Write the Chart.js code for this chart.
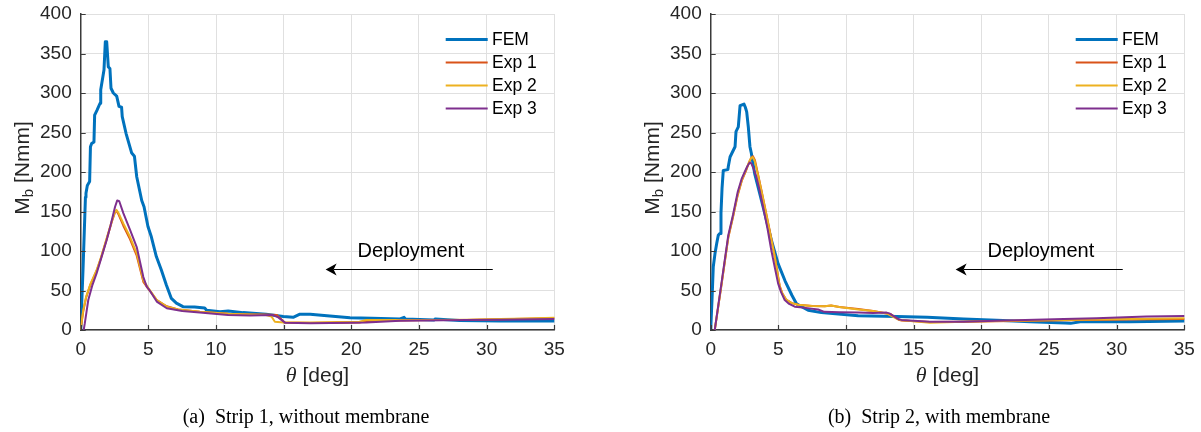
<!DOCTYPE html>
<html>
<head>
<meta charset="utf-8">
<script src="https://cdn.jsdelivr.net/npm/chart.js@4.4.1/dist/chart.umd.min.js"></script>
<style>
  html, body { margin: 0; padding: 0; background: #fff; }
  #wrap { position: relative; width: 1201px; height: 432px; overflow: hidden; background: #fff; }
  .panel { position: absolute; top: 0; width: 571px; height: 432px; }
  .caption {
    position: absolute; top: 405px; line-height: 22px;
    font: 20px "Liberation Serif", "Times New Roman", serif; color: #000;
    white-space: pre; transform: translateX(-50%);
  }
</style>
</head>
<body>
<div id="wrap">
  <div class="panel" style="left:0px"><canvas id="strip1" width="571" height="432"></canvas></div>
  <div class="panel" style="left:630px"><canvas id="strip2" width="571" height="432"></canvas></div>
  <div class="caption" style="left:306px">(a)  Strip 1, without membrane</div>
  <div class="caption" style="left:939px">(b)  Strip 2, with membrane</div>
</div>
<script>
// Series shared by both panels
const seriesNames = ['FEM', 'Exp 1', 'Exp 2', 'Exp 3'];
const xTicks = [0, 5, 10, 15, 20, 25, 30, 35];
const yTicks = [0, 50, 100, 150, 200, 250, 300, 350, 400];

// Strip 1 (without membrane): rotation θ [deg] and bending moment M_b [Nmm]
const s1FemTheta = [0, 0.17, 0.35, 0.39, 0.49, 0.66, 0.72, 0.81, 0.98, 1.03, 1.2, 1.43, 1.48, 1.72, 1.82, 1.92, 2.04, 2.16, 2.24, 2.41, 2.66, 2.83, 3.02, 3.07, 3.35, 3.77, 3.97, 4.14, 4.51, 4.68, 4.97, 5.22, 5.59, 5.96, 6.33, 6.70, 7.07, 7.56, 8.42, 9.16, 9.3, 10.3, 10.9, 12.0, 13.7, 14.97, 15.7, 16.2, 16.96, 18.2, 19.9, 21.5, 23.6, 23.9, 24.0, 26.1, 26.2, 28.0, 31.0, 35.0];
const s1FemMb    = [0, 76, 168, 173, 183, 188, 232, 236, 238, 272, 278, 287, 304, 329, 365, 365, 333, 331, 306, 300, 296, 283, 282, 270, 249, 224, 220, 194, 164, 156, 131, 118, 93, 76, 57, 40, 34, 29.5, 29, 28, 25, 23, 24, 22, 20, 17, 16, 20, 20, 18, 15.6, 15, 14, 16, 14, 12.6, 14, 12, 11.4, 11.4];

const s1Exp1Theta = [0, 0.05, 0.19, 0.4, 0.69, 1.18, 1.5, 1.92, 2.3, 2.54, 2.65, 2.8, 3.15, 3.64, 4.14, 4.63, 5.0, 5.62, 6.36, 7.2, 8.8, 10.9, 12.5, 13.7, 14.5, 14.75, 15.05, 17, 19, 20.6, 21.1, 23.6, 26.1, 28.5, 31, 33, 35];
const s1Exp1Mb    = [0, 7, 24, 41, 56, 75, 91, 115, 137, 149, 151, 146, 132, 115, 94, 61, 52, 38, 30, 26, 23, 20.5, 19.5, 19.5, 19, 15, 9.5, 9, 9.2, 9.5, 11.5, 12, 12.5, 12.8, 13.5, 14.3, 15];

const s1Exp2Theta = [0, 0.05, 0.19, 0.4, 0.69, 1.18, 1.5, 1.92, 2.3, 2.54, 2.65, 2.8, 3.15, 3.64, 4.14, 4.63, 5.0, 5.62, 6.36, 7.2, 8.8, 10.9, 12.5, 13.7, 14.1, 14.35, 15.0, 17.0, 19.0, 20.6, 21.1, 23.6, 26.1, 28.5, 31, 33, 35];
const s1Exp2Mb    = [0, 8, 25, 42, 57, 76, 92, 116, 138, 150, 152, 148, 135, 118, 97, 63, 53, 38, 29.5, 26, 23, 20.5, 19.5, 19, 17, 10.5, 9.6, 9.6, 10, 10.5, 12.6, 12.6, 12.6, 13, 13.9, 14.5, 15.6];

const s1Exp3Theta = [0.22, 0.3, 0.56, 0.85, 1.18, 1.5, 1.92, 2.2, 2.54, 2.7, 2.85, 3.15, 3.64, 4.14, 4.63, 4.88, 5.1, 5.62, 6.36, 7.5, 8.8, 10.9, 12.5, 14.2, 14.6, 15.1, 17.0, 19.9, 21.1, 23.6, 28.5, 31, 35];
const s1Exp3Mb    = [0, 8, 38, 56, 72, 90, 114, 132, 156, 164, 163, 148, 127, 105, 67, 55, 50, 36, 27.5, 24, 22, 19, 18.5, 19, 16, 9.3, 8.4, 9.3, 9.5, 11.8, 12.6, 13, 14];

// Strip 2 (with membrane)
const s2FemTheta = [0, 0.1, 0.19, 0.32, 0.45, 0.56, 0.66, 0.72, 0.76, 0.84, 0.93, 1.27, 1.3, 1.43, 1.6, 1.8, 1.87, 2.04, 2.17, 2.46, 2.56, 2.66, 2.78, 2.9, 3.0, 3.25, 3.62, 3.99, 4.48, 4.98, 5.5, 6.0, 6.35, 7.2, 8.18, 10.9, 13.76, 16, 18.7, 21.6, 23.6, 26.2, 26.6, 27.3, 31, 35];
const s2FemMb    = [0, 40, 80, 97, 110, 120, 122, 122, 148, 180, 202, 203, 207, 219, 225, 232, 251, 257, 284, 286, 282, 276, 257, 232, 224, 198, 173, 148, 114, 84, 62, 44, 33, 25, 22, 18, 17, 16, 14, 12, 10.5, 9, 8.4, 10.5, 10.5, 11.4];

const s2Exp1Theta = [0.3, 0.8, 1.3, 1.65, 2.0, 2.3, 2.6, 2.85, 3.0, 3.12, 3.27, 3.5, 3.75, 3.99, 4.3, 4.73, 4.9, 5.1, 5.3, 5.6, 6.0, 6.46, 7.5, 8.43, 8.9, 9.5, 10.9, 12.0, 13.3, 13.9, 14.1, 16.2, 18.7, 21.1, 26.1, 31, 35];
const s2Exp1Mb    = [0, 57, 117, 143, 171, 189, 201, 213, 218, 220, 215, 197, 177, 157, 131, 94, 76, 56, 46, 38, 34, 32, 30.5, 30, 31, 29, 26.5, 24, 20, 13, 12, 10, 10.5, 11, 12.3, 13.3, 14];

const s2Exp2Theta = [0.3, 0.8, 1.3, 1.65, 2.0, 2.3, 2.6, 2.85, 3.0, 3.1, 3.25, 3.5, 3.75, 3.99, 4.3, 4.73, 4.9, 5.1, 5.3, 5.6, 6.0, 6.46, 7.5, 8.43, 8.9, 9.5, 10.9, 12.0, 13.0, 13.76, 14.0, 16.2, 18.7, 21.1, 26.1, 31, 35];
const s2Exp2Mb    = [0, 58, 118, 144, 172, 190, 202, 213, 218, 219, 214, 196, 176, 156, 130, 93, 75, 55, 46, 38, 34, 32, 30.5, 30, 31, 29, 26, 24, 21, 14, 12.8, 9.3, 10.5, 11.4, 12.6, 13.9, 14.8];

const s2Exp3Theta = [0.3, 0.8, 1.3, 1.65, 2.0, 2.3, 2.51, 2.7, 2.88, 3.0, 3.15, 3.37, 3.6, 3.87, 4.2, 4.48, 4.75, 4.98, 5.2, 5.47, 5.8, 6.21, 7.0, 7.94, 8.4, 9.5, 10.9, 12.0, 13.0, 13.2, 13.9, 14.1, 16.2, 18.7, 21.1, 26.1, 28.5, 32.2, 35];
const s2Exp3Mb    = [0, 60, 120, 146, 175, 192, 200, 207, 212, 211, 205, 194, 178, 156, 128, 101, 78, 59, 48, 38, 33, 29.5, 28, 26, 23, 22.5, 22, 21.5, 22, 21, 13.5, 12.8, 10.5, 10.5, 11.8, 13.9, 14.8, 17, 17.7];

const SANS = '"Liberation Sans", Arial, Helvetica, sans-serif';
const SERIF = '"Liberation Serif", "Times New Roman", serif';
const LINE_COLORS = ['#0072BD', '#D95319', '#EDB120', '#7E2F8E'];
const LINE_WIDTHS = [3, 2, 2, 2];

function toPoints(theta, mb) {
  return theta.map((t, i) => ({ x: t, y: mb[i] }));
}

// Inward ticks, in-axes legend, axis labels and the "Deployment" arrow
const decorPlugin = {
  id: 'decor',
  afterDatasetsDraw(chart, args, opts) {
    const { ctx, chartArea: a, scales: { x, y } } = chart;
    ctx.save();

    // tick marks pointing into the axes
    ctx.strokeStyle = '#3a3a3a';
    ctx.lineWidth = 1.2;
    ctx.beginPath();
    xTicks.forEach(v => {
      const px = Math.round(x.getPixelForValue(v)) + 0.5;
      ctx.moveTo(px, a.bottom); ctx.lineTo(px, a.bottom - 5);
    });
    yTicks.forEach(v => {
      const py = Math.round(y.getPixelForValue(v)) + 0.5;
      ctx.moveTo(a.left, py); ctx.lineTo(a.left + 5, py);
    });
    ctx.stroke();

    // legend inside the upper-right corner
    chart.data.datasets.forEach((ds, i) => {
      const ly = a.top + 25.5 + i * 23;
      ctx.strokeStyle = ds.borderColor;
      ctx.lineWidth = ds.borderWidth;
      ctx.beginPath();
      ctx.moveTo(a.right - 108.6, ly); ctx.lineTo(a.right - 66.6, ly);
      ctx.stroke();
      ctx.fillStyle = '#000';
      ctx.font = '17.5px ' + SANS;
      ctx.textAlign = 'left';
      ctx.textBaseline = 'middle';
      ctx.fillText(ds.label, a.right - 62.3, ly + 1);
    });

    // deployment arrow
    const ax0 = x.getPixelForValue(opts.arrowFrom), ax1 = x.getPixelForValue(opts.arrowTo);
    const ay = Math.round(y.getPixelForValue(opts.arrowLevel)) + 0.5;
    ctx.strokeStyle = '#000';
    ctx.fillStyle = '#000';
    ctx.lineWidth = 1.2;
    ctx.beginPath();
    ctx.moveTo(ax0, ay); ctx.lineTo(ax1 + 8, ay);
    ctx.stroke();
    ctx.beginPath();
    ctx.moveTo(ax1, ay); ctx.lineTo(ax1 + 11, ay - 6); ctx.lineTo(ax1 + 8, ay); ctx.lineTo(ax1 + 11, ay + 6);
    ctx.closePath();
    ctx.fill();
    ctx.font = '20px ' + SANS;
    ctx.textAlign = 'center';
    ctx.textBaseline = 'middle';
    ctx.fillText(opts.label, x.getPixelForValue(opts.labelAt), y.getPixelForValue(opts.labelLevel));

    // x-axis title: italic theta followed by the unit
    ctx.fillStyle = '#262626';
    ctx.textBaseline = 'alphabetic';
    ctx.textAlign = 'left';
    const thetaFont = 'italic 22px ' + SERIF, unitFont = '21px ' + SANS;
    ctx.font = thetaFont; const wT = ctx.measureText('θ').width;
    ctx.font = unitFont; const wU = ctx.measureText(' [deg]').width;
    let tx = (a.left + a.right) / 2 - (wT + wU) / 2;
    ctx.font = thetaFont; ctx.fillText('θ', tx, 382);
    ctx.font = unitFont; ctx.fillText(' [deg]', tx + wT, 382);

    // y-axis title: M with subscript b, rotated
    ctx.translate(29, (a.top + a.bottom) / 2 - 4);
    ctx.rotate(-Math.PI / 2);
    const mainFont = '21px ' + SANS, subFont = '15px ' + SANS;
    ctx.font = mainFont; const wM = ctx.measureText('M').width; const wR = ctx.measureText(' [Nmm]').width;
    ctx.font = subFont; const wB = ctx.measureText('b').width;
    let sx = -(wM + wB + wR) / 2;
    ctx.font = mainFont; ctx.fillText('M', sx, 0);
    ctx.font = subFont; ctx.fillText('b', sx + wM, 4);
    ctx.font = mainFont; ctx.fillText(' [Nmm]', sx + wM + wB, 0);

    ctx.restore();
  }
};

function buildPanel(canvasId, thetaSets, mbSets) {
  // later series are painted over earlier ones (FEM lowest, Exp 3 on top)
  const datasets = seriesNames.map((name, i) => ({
    label: name,
    data: toPoints(thetaSets[i], mbSets[i]),
    order: seriesNames.length - i,
    borderColor: LINE_COLORS[i],
    borderWidth: LINE_WIDTHS[i],
    pointRadius: 0,
    tension: 0,
    fill: false,
    borderJoinStyle: 'round',
    borderCapStyle: 'round'
  }));
  const tickFont = { family: SANS, size: 19 };
  return new Chart(document.getElementById(canvasId), {
    type: 'line',
    data: { datasets },
    options: {
      responsive: false,
      animation: false,
      devicePixelRatio: 1,
      layout: { padding: { left: 0, top: 14, right: 16.7, bottom: 62 } },
      plugins: {
        legend: { display: false },
        tooltip: { enabled: false },
        decor: { arrowFrom: 30.45, arrowTo: 18.1, arrowLevel: 77, label: 'Deployment', labelAt: 24.4, labelLevel: 99 }
      },
      scales: {
        x: {
          type: 'linear', min: 0, max: 35,
          afterBuildTicks: s => { s.ticks = xTicks.map(v => ({ value: v })); },
          afterFit: s => { s.height = 40; s.paddingLeft = 0; s.paddingRight = 0; },
          grid: { color: '#e0e0e0', lineWidth: 1, drawTicks: false },
          border: { color: '#3a3a3a', width: 1.5 },
          ticks: { padding: 8, color: '#262626', font: tickFont, maxRotation: 0, autoSkip: false }
        },
        y: {
          type: 'linear', min: 0, max: 400,
          afterBuildTicks: s => { s.ticks = yTicks.map(v => ({ value: v })); },
          afterFit: s => { s.width = 80.7; s.paddingTop = 0; s.paddingBottom = 0; },
          grid: { color: '#e0e0e0', lineWidth: 1, drawTicks: false },
          border: { color: '#3a3a3a', width: 1.5 },
          ticks: { padding: 9, color: '#262626', font: tickFont, autoSkip: false }
        }
      }
    },
    plugins: [decorPlugin]
  });
}

buildPanel('strip1',
  [s1FemTheta, s1Exp1Theta, s1Exp2Theta, s1Exp3Theta],
  [s1FemMb, s1Exp1Mb, s1Exp2Mb, s1Exp3Mb]);
buildPanel('strip2',
  [s2FemTheta, s2Exp1Theta, s2Exp2Theta, s2Exp3Theta],
  [s2FemMb, s2Exp1Mb, s2Exp2Mb, s2Exp3Mb]);
</script>
</body>
</html>
